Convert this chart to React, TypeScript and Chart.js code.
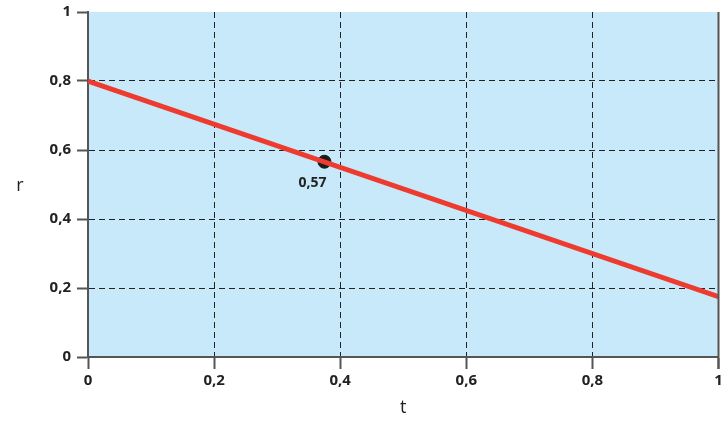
import React, { useEffect, useRef } from "react";
import { Chart, registerables } from "chart.js";

Chart.register(...registerables);

const lineX = [0, 1];
const lineY = [0.8, 0.175];
const markX = [0.375];
const markY = [0.566];
const markLabels = ["0,57"];
const tickValues = [0, 0.2, 0.4, 0.6, 0.8, 1];
const xTitle = "t";
const yTitle = "r";

const fmt = (v: number) => (v === 0 ? "0" : v === 1 ? "1" : String(Math.round(v * 10) / 10).replace(".", ","));

const bgPlugin = {
  id: "bgPlugin",
  beforeDraw(chart: any) {
    const { ctx, chartArea: a } = chart;
    ctx.save();
    ctx.fillStyle = "#c7e9f9";
    ctx.fillRect(a.left, a.top, a.right - a.left, a.bottom - a.top);
    ctx.restore();
  },
  afterDatasetsDraw(chart: any) {
    const { ctx, chartArea: a } = chart;
    ctx.save();
    ctx.strokeStyle = "#555";
    ctx.lineWidth = 2;
    ctx.beginPath();
    ctx.moveTo(a.right, a.top);
    ctx.lineTo(a.right, a.bottom + 12);
    ctx.stroke();
    const xs = chart.scales.x;
    const ys = chart.scales.y;
    ctx.fillStyle = "#222";
    ctx.font = "bold 14px 'Open Sans'";
    ctx.textAlign = "center";
    ctx.textBaseline = "middle";
    markX.forEach((x, i) => {
      ctx.fillText(markLabels[i], xs.getPixelForValue(x) - 12, ys.getPixelForValue(markY[i]) + 21);
    });
    ctx.font = "18px 'Open Sans'";
    ctx.fillText(yTitle, 20, (a.top + a.bottom) / 2 + 1);
    ctx.restore();
  },
};

export default function App() {
  const ref = useRef<HTMLCanvasElement>(null);
  useEffect(() => {
    document.body.style.margin = "0";
    const chart = new Chart(ref.current!, {
      type: "scatter",
      data: {
        datasets: [
          {
            type: "line",
            data: lineX.map((x, i) => ({ x, y: lineY[i] })),
            borderColor: "#ee3b2f",
            borderWidth: 5,
            pointRadius: 0,
            showLine: true,
          } as any,
          {
            data: markX.map((x, i) => ({ x, y: markY[i] })),
            backgroundColor: "#1a1a1a",
            borderColor: "#1a1a1a",
            pointRadius: 6.5,
          },
        ],
      },
      options: {
        animation: false,
        responsive: false,
        maintainAspectRatio: false,
        layout: { padding: { top: 12, right: 7, left: 0, bottom: 0 } },
        plugins: { legend: { display: false }, tooltip: { enabled: false } },
        scales: {
          x: {
            type: "linear",
            min: 0,
            max: 1,
            afterFit: (s: any) => {
              s.height = 66;
              s.paddingLeft = 0;
              s.paddingRight = 0;
            },
            afterBuildTicks: (s: any) => {
              s.ticks = tickValues.map((v) => ({ value: v }));
            },
            ticks: {
              callback: (v: any) => fmt(Number(v)),
              color: "#222",
              font: { family: "'Open Sans'", size: 15, weight: "bold" },
              padding: 3,
              maxRotation: 0,
            },
            grid: {
              color: (c: any) => (c.tick && (c.tick.value === 0 || c.tick.value === 1) ? "rgba(0,0,0,0)" : "#222"),
              lineWidth: 1,
              tickColor: "#555",
              tickLength: 12,
              tickWidth: 2,
            } as any,
            border: { color: "#555", width: 2, dash: [6, 4] } as any,
            title: {
              display: true,
              text: xTitle,
              color: "#222",
              font: { family: "'Open Sans'", size: 18 },
              padding: { top: 3 },
            },
          },
          y: {
            type: "linear",
            min: 0,
            max: 1,
            afterFit: (s: any) => {
              s.width = 88;
              s.paddingTop = 0;
              s.paddingBottom = 0;
            },
            afterBuildTicks: (s: any) => {
              s.ticks = tickValues.map((v) => ({ value: v }));
            },
            ticks: {
              callback: (v: any) => fmt(Number(v)),
              color: "#222",
              font: { family: "'Open Sans'", size: 15, weight: "bold" },
              padding: 6,
            },
            grid: {
              color: (c: any) => (c.tick && (c.tick.value === 0 || c.tick.value === 1) ? "rgba(0,0,0,0)" : "#222"),
              lineWidth: 1,
              tickColor: "#555",
              tickLength: 11,
              tickWidth: 2,
            } as any,
            border: { color: "#555", width: 2, dash: [6, 4] } as any,
            title: { display: false },
          },
        },
      },
      plugins: [bgPlugin],
    } as any);
    return () => chart.destroy();
  }, []);
  return (
    <div style={{ width: 726, height: 423 }}>
      <canvas ref={ref} width={726} height={423} style={{ display: "block" }} />
    </div>
  );
}
